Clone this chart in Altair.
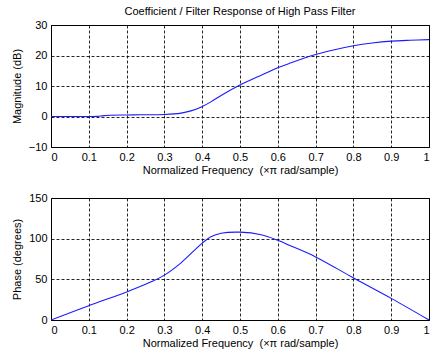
import altair as alt
import pandas as pd

mag_x = [0.0, 0.05, 0.1, 0.124, 0.14, 0.2, 0.238, 0.3, 0.344, 0.37, 0.398, 0.423, 0.45, 0.5, 0.547, 0.6, 0.635, 0.7, 0.75, 0.8, 0.85, 0.9, 0.95, 1.0]
mag_y = [0.0, 0.0, 0.0, 0.05, 0.3, 0.5, 0.55, 0.65, 1.1, 1.85, 3.15, 4.8, 6.9, 10.3, 13.0, 16.0, 17.6, 20.3, 21.9, 23.2, 24.1, 24.7, 25.0, 25.2]

ph_x = [0.0, 0.1, 0.2, 0.265, 0.3, 0.344, 0.4, 0.423, 0.45, 0.5, 0.556, 0.6, 0.635, 0.7, 0.803, 0.9, 1.0]
ph_y = [0.0, 17.6, 34.5, 47.0, 55.2, 70.3, 94.6, 102.3, 106.6, 108.0, 104.9, 98.0, 91.0, 77.6, 51.0, 26.6, 0.0]

x_ticks = [round(i * 0.1, 1) for i in range(11)]

mag_df = pd.DataFrame({"f": mag_x, "v": mag_y})
ph_df = pd.DataFrame({"f": ph_x, "v": ph_y})

FONT = "Liberation Sans"
XT = "Normalized Frequency \u00a0(\u00d7\u03c0 rad/sample)"

axis_common = dict(
    grid=True,
    gridColor="#000000",
    gridDash=[3, 2],
    gridOpacity=0.85,
    gridWidth=1,
    domain=False,
    ticks=False,
    labelFont=FONT,
    labelFontSize=11,
    labelColor="#000000",
    titleFont=FONT,
    titleFontSize=11,
    titleFontWeight="normal",
    titleColor="#000000",
    labelPadding=4,
)

def panel(df, ytitle, ydom, yvals, title=None):
    x = alt.X(
        "f:Q",
        scale=alt.Scale(domain=[0, 1], nice=False),
        axis=alt.Axis(values=x_ticks, title=XT,
                      labelExpr="toString(round(datum.value*10)/10)",
                      titlePadding=2, **axis_common),
    )
    y = alt.Y(
        "v:Q",
        scale=alt.Scale(domain=ydom, nice=False),
        axis=alt.Axis(values=yvals, title=ytitle, titlePadding=6, **axis_common),
    )
    c = alt.Chart(df).mark_line(color="#1a1aff", strokeWidth=1.1, interpolate="catmull-rom", clip=True).encode(x=x, y=y)
    props = dict(width=378, height=122)
    if title:
        props["title"] = alt.TitleParams(title, font=FONT, fontSize=11, fontWeight="normal", color="#000000", offset=2)
    return c.properties(**props)

top = panel(mag_df, "Magnitude (dB)", [-10, 30], [-10, 0, 10, 20, 30],
            title="Coefficient / Filter Response of High Pass Filter")
bot = panel(ph_df, "Phase (degrees)", [0, 150], [0, 50, 100, 150])

chart = alt.vconcat(top, bot, spacing=15).configure_view(
    stroke="#000000", strokeWidth=1
).properties(
    padding={"left": 10, "top": 5, "right": 0, "bottom": 0},
    background="white",
)

chart.save("out.html", embed_options={"renderer": "svg", "actions": False})
